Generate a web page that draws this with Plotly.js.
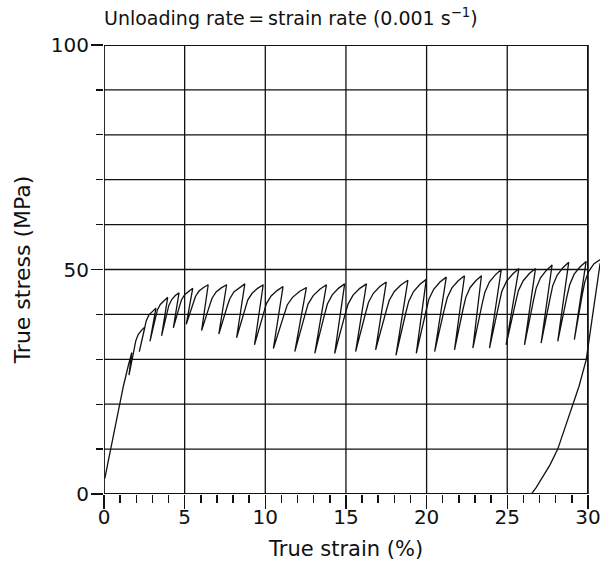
<!DOCTYPE html>
<html>
<head>
<meta charset="utf-8">
<script src="https://cdn.plot.ly/plotly-3.0.1.min.js"></script>
<style>
html,body{margin:0;padding:0;background:#fff;}
#chart{width:600px;height:572px;}
</style>
</head>
<body>
<div id="chart"></div>
<script>
// True strain (%) along the loading/unloading path
const strain = [
  0.05,0.30,0.60,0.90,1.20,1.50,1.72,
  1.55,1.87,1.97,2.12,2.33,2.54,
  2.19,2.52,2.62,2.79,3.00,3.22,
  2.85,3.20,3.31,3.49,3.72,3.95,
  3.57,3.92,4.02,4.20,4.42,4.65,
  4.30,4.68,4.80,5.00,5.25,5.50,
  5.10,5.54,5.67,5.89,6.17,6.46,
  6.05,6.55,6.70,6.95,7.27,7.60,
  7.12,7.64,7.80,8.05,8.39,8.73,
  8.22,8.75,8.91,9.18,9.52,9.87,
  9.33,9.90,10.07,10.36,10.73,11.10,
  10.50,11.16,11.36,11.69,12.12,12.55,
  11.83,12.46,12.65,12.97,13.38,13.79,
  13.07,13.66,13.85,14.14,14.53,14.92,
  14.30,14.93,15.13,15.44,15.86,16.27,
  15.60,16.21,16.40,16.70,17.10,17.50,
  16.84,17.48,17.68,18.00,18.42,18.84,
  18.10,18.70,18.89,19.19,19.59,19.98,
  19.36,19.96,20.14,20.44,20.83,21.22,
  20.50,21.09,21.28,21.57,21.96,22.35,
  21.73,22.26,22.43,22.70,23.05,23.40,
  22.87,23.43,23.61,23.89,24.26,24.63,
  23.90,24.48,24.66,24.96,25.34,25.72,
  24.93,25.51,25.69,25.99,26.37,26.75,
  26.07,26.62,26.79,27.06,27.42,27.78,
  27.10,27.65,27.82,28.09,28.45,28.81,
  28.13,28.69,28.87,29.15,29.52,29.89,
  29.16,29.65,29.81,30.05,30.38,30.90,
  30.75,30.30,29.90,29.45,29.06,28.60,28.13,27.65,27.15,26.80,26.50
];
// True stress (MPa) along the same path
const stress = [
  3.5,8.0,13.5,19.0,24.0,28.5,31.5,
  26.5,32.4,34.1,35.5,36.5,37.2,
  31.7,37.0,38.6,39.9,40.75,41.4,
  34.0,39.4,41.0,42.2,43.1,43.8,
  35.2,40.5,42.0,43.3,44.2,44.8,
  37.0,41.8,43.2,44.4,45.2,45.8,
  37.8,42.6,44.0,45.2,46.0,46.6,
  36.4,42.0,43.6,45.0,45.9,46.6,
  35.6,41.8,43.5,45.0,46.0,46.8,
  34.8,41.3,43.2,44.7,45.8,46.6,
  33.2,40.35,42.4,44.1,45.3,46.2,
  32.4,39.9,42.1,43.8,45.1,46.0,
  31.7,39.9,42.3,44.2,45.6,46.6,
  31.3,39.8,42.3,44.3,45.8,46.8,
  31.3,39.8,42.3,44.3,45.8,46.8,
  31.7,40.2,42.7,44.7,46.2,47.2,
  32.1,40.6,43.1,45.1,46.6,47.6,
  30.9,40.2,42.9,45.1,46.7,47.8,
  31.3,40.65,43.4,45.6,47.2,48.3,
  31.7,41.0,43.7,45.9,47.5,48.6,
  32.1,41.2,43.8,46.0,47.5,48.6,
  32.5,42.1,44.9,47.2,48.8,50.0,
  32.5,42.2,45.1,47.4,49.0,50.2,
  33.2,42.55,45.3,47.5,49.1,50.2,
  33.2,43.0,45.8,48.15,49.8,51.0,
  33.6,43.5,46.4,48.7,50.4,51.6,
  34.0,43.8,46.6,48.95,50.6,51.8,
  34.4,44.4,47.25,49.6,51.3,52.5,
  51.2,40.0,30.0,24.0,20.0,15.0,10.0,6.5,3.5,1.5,0.0
];
const xTickVals = [0,5,10,15,20,25,30];
const xTickText = ['0','5','10','15','20','25','30'];
const yTickVals = [0,50,100];
const yTickText = ['0','50','100'];
const yGridVals = [0,10,20,30,40,50,60,70,80,90,100];
const titleText = 'Unloading rate\u2009=\u2009strain rate (0.001 s<sup>\u22121</sup>)';
const xTitle = 'True strain (%)';
const yTitle = 'True stress (MPa)';

const FONT = 'DejaVu Sans, Verdana, sans-serif';
const shapes = [];
xTickVals.forEach(v => shapes.push({type:'line', xref:'x', yref:'y', x0:v, x1:v, y0:0, y1:100,
  line:{color:'#111', width: (v===0||v===30)?1.8:1.3}, layer:'above'}));
yGridVals.forEach(v => shapes.push({type:'line', xref:'x', yref:'y', x0:0, x1:30, y0:v, y1:v,
  line:{color:'#111', width: (v===0||v===100)?1.8:1.3}, layer:'above'}));

const trace = {
  x: strain, y: stress, type:'scatter', mode:'lines',
  line:{color:'#111', width:1.3}, hoverinfo:'skip', showlegend:false
};

const layout = {
  width:600, height:572,
  margin:{l:104, r:0, t:45, b:78, pad:0},
  paper_bgcolor:'#fff', plot_bgcolor:'#fff',
  font:{family:FONT, color:'#111', size:20},
  title:{text:titleText, xref:'paper', x:0, xanchor:'left', yref:'container', y:1-18/572, yanchor:'middle',
    font:{family:FONT, size:19, color:'#111'}},
  xaxis:{range:[0,30.75], tickvals:xTickVals, ticktext:xTickText, showgrid:false, zeroline:false, showline:false,
    ticks:'outside', ticklen:14, tickwidth:1.5, tickcolor:'#111', ticklabelstandoff:-9, ticklabeloverflow:'allow',
    minor:{dtick:1, tick0:0, ticks:'outside', ticklen:8, tickwidth:1.5, tickcolor:'#111', showgrid:false},
    tickfont:{family:FONT, size:20, color:'#111'}},
  yaxis:{range:[0,100], tickvals:yTickVals, ticktext:yTickText, showgrid:false, zeroline:false, showline:false,
    ticks:'outside', ticklen:12, tickwidth:1.5, tickcolor:'#111', ticklabelstandoff:-2,
    minor:{dtick:10, tick0:0, ticks:'outside', ticklen:7, tickwidth:1.3, tickcolor:'#111', showgrid:false},
    tickfont:{family:FONT, size:20, color:'#111'},
    title:{text:yTitle, font:{family:FONT, size:22, color:'#111'}, standoff:14}},
  annotations:[{text:xTitle, xref:'x', x:15, yref:'paper', y:-55/449, xanchor:'center', yanchor:'middle',
    showarrow:false, font:{family:FONT, size:21, color:'#111'}}],
  shapes: shapes
};
Plotly.newPlot('chart', [trace], layout, {staticPlot:true, displayModeBar:false});
</script>
</body>
</html>
